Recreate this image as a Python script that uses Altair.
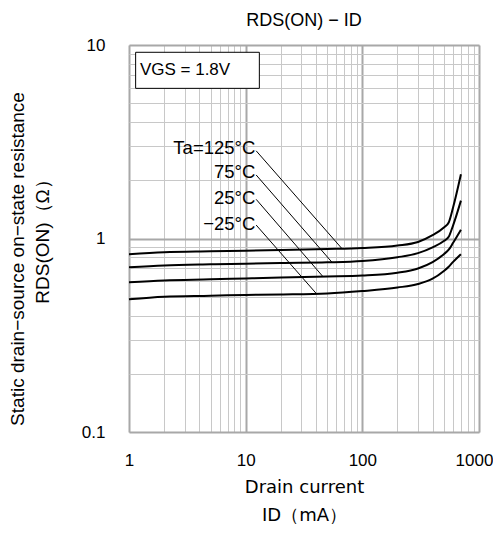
import altair as alt
import pandas as pd

# ---- data ----
current_ma = [1, 2, 5, 10, 20, 50, 100, 200, 300, 400, 500, 550, 600, 700]
r_125 = [0.83, 0.848, 0.858, 0.865, 0.872, 0.882, 0.893, 0.92, 0.96, 1.04, 1.14, 1.21, 1.45, 2.15]
r_75 = [0.71, 0.725, 0.735, 0.741, 0.747, 0.753, 0.765, 0.80, 0.84, 0.90, 0.97, 1.02, 1.17, 1.57]
r_25 = [0.594, 0.607, 0.615, 0.622, 0.628, 0.636, 0.643, 0.665, 0.70, 0.755, 0.83, 0.875, 0.95, 1.11]
r_m25 = [0.485, 0.50, 0.506, 0.511, 0.514, 0.52, 0.535, 0.558, 0.582, 0.62, 0.68, 0.715, 0.757, 0.83]
series_names = ["125", "75", "25", "-25"]

label_texts = ["Ta=125°C", "75°C", "25°C", "−25°C"]
label_y = [2.94, 2.21, 1.62, 1.19]
leader_start_y = [2.84, 2.13, 1.594, 1.174]
leader_end_x = [66.5, 55, 46, 40.6]
leader_end_y = [0.89, 0.753, 0.635, 0.517]
label_x = 12.1
leader_start_x = 12.3

y_title_lines = ["Static drain−source on−state resistance", "RDS(ON)（Ω）"]

x_grid = [m * 10 ** e for e in range(0, 3) for m in range(1, 10)] + [1000]
y_grid = [round(m * 10 ** e, 4) for e in range(-1, 1) for m in range(1, 10)] + [10]

FONT = "Liberation Sans"

rows = []
for name, vals in zip(series_names, [r_125, r_75, r_25, r_m25]):
    for x, v in zip(current_ma, vals):
        rows.append({"id": x, "r": v, "ta": name})
curve_df = pd.DataFrame(rows)

leader_df = pd.DataFrame({
    "x": [leader_start_x] * 4, "y": leader_start_y,
    "x2": leader_end_x, "y2": leader_end_y,
})
label_df = pd.DataFrame({"x": [label_x] * 4, "y": label_y, "t": label_texts})
box_df = pd.DataFrame({"x": [1.14], "x2": [13.1], "y": [9.17], "y2": [5.97]})
vgs_df = pd.DataFrame({"x": [1.24], "y": [7.43], "t": ["VGS = 1.8V"]})
one_df = pd.DataFrame({"k": [0]})

decade_test = "abs(log(datum.value)/LN10 - round(log(datum.value)/LN10)) < 0.001"

xscale = alt.Scale(type="log", domain=[1, 1000], nice=False)
yscale = alt.Scale(type="log", domain=[0.1, 10], nice=False)

grid_color = {"condition": {"test": decade_test, "value": "#a8a8a8"}, "value": "#c8c8c8"}
grid_width = {"condition": {"test": decade_test, "value": 2}, "value": 1}

xaxis = alt.Axis(
    values=x_grid, grid=True, ticks=False, domain=False,
    gridColor=grid_color, gridWidth=grid_width,
    format="~g", labelExpr=f"({decade_test}) ? datum.label : ''",
    labelOffset={"condition": {"test": "datum.value >= 999", "value": -5}, "value": 0},
    labelOverlap=False, labelFlush=False, labelFont=FONT, labelFontSize=17,
    labelColor="#000", labelPadding=20,
    title=["Drain current", "ID（mA）"], titleFont="DejaVu Sans", titleFontSize=18,
    titleFontWeight="normal", titleColor="#000", titlePadding=10, titleLineHeight=28,
)
yaxis = alt.Axis(
    values=y_grid, grid=True, ticks=False, domain=False,
    gridColor=grid_color, gridWidth=grid_width,
    format="~g", labelExpr=f"({decade_test}) ? datum.label : ''",
    labelOverlap=False, labelFlush=False, labelFont=FONT, labelFontSize=17,
    labelColor="#000", labelPadding=24, title=None,
)

curves = alt.Chart(curve_df).mark_line(color="black", strokeWidth=2, interpolate="monotone").encode(
    x=alt.X("id:Q", scale=xscale, axis=xaxis),
    y=alt.Y("r:Q", scale=yscale, axis=yaxis),
    detail="ta:N",
)
leaders = alt.Chart(leader_df).mark_rule(color="black", strokeWidth=1).encode(
    x=alt.X("x:Q", scale=xscale), y=alt.Y("y:Q", scale=yscale),
    x2="x2:Q", y2="y2:Q",
)
labels = alt.Chart(label_df).mark_text(
    align="right", baseline="middle", font=FONT, fontSize=18.5, color="black"
).encode(x=alt.X("x:Q", scale=xscale), y=alt.Y("y:Q", scale=yscale), text="t:N")
box = alt.Chart(box_df).mark_rect(fill="white", stroke="black", strokeWidth=1).encode(
    x=alt.X("x:Q", scale=xscale), x2="x2:Q",
    y=alt.Y("y:Q", scale=yscale), y2="y2:Q",
)
vgs = alt.Chart(vgs_df).mark_text(
    align="left", baseline="middle", font=FONT, fontSize=17, color="black"
).encode(x=alt.X("x:Q", scale=xscale), y=alt.Y("y:Q", scale=yscale), text="t:N")

ytitle1 = alt.Chart(one_df).mark_text(
    angle=270, align="center", baseline="middle", font=FONT, fontSize=19, color="black",
    text=y_title_lines[0],
).encode(x=alt.value(-111), y=alt.value(214))
ytitle2 = alt.Chart(one_df).mark_text(
    angle=270, align="center", baseline="middle", font=FONT, fontSize=19, color="black",
    text=y_title_lines[1],
).encode(x=alt.value(-86), y=alt.value(192))

chart = alt.layer(curves, leaders, labels, box, vgs, ytitle1, ytitle2).properties(
    width=350, height=387,
    autosize=alt.AutoSizeParams(type="none"),
    padding={"left": 121, "top": 37, "right": 14, "bottom": 103},
    title=alt.TitleParams("RDS(ON) − ID", font=FONT, fontSize=18, fontWeight="normal",
                          color="#000", anchor="middle", offset=6),
).configure_view(stroke="black", strokeWidth=1.5).configure(background="white")

chart.save("out.html", embed_options={"renderer": "svg", "actions": False})
